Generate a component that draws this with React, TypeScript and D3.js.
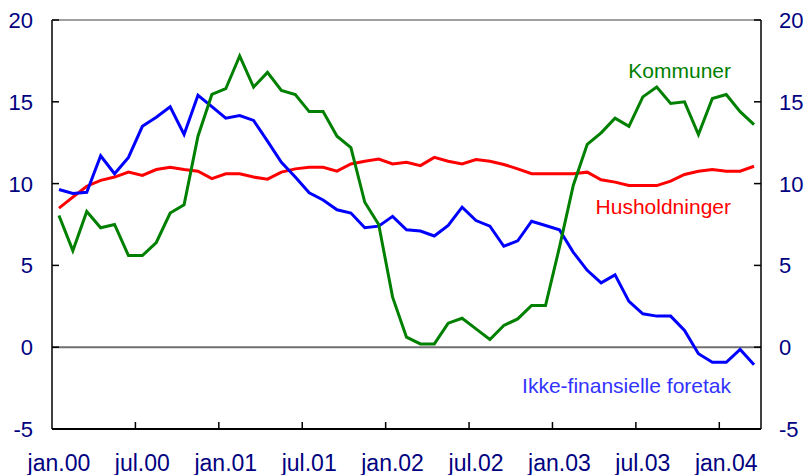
import React from 'react';
import * as d3 from 'd3';

const monthNames = ['jan', 'feb', 'mar', 'apr', 'mai', 'jun', 'jul', 'aug', 'sep', 'okt', 'nov', 'des'];
const years = ['00', '01', '02', '03', '04'];
const months: string[] = [];
years.forEach((yy) => monthNames.forEach((m) => months.push(`${m}.${yy}`)));
const categories = months.slice(0, 51); // jan.00 - mar.04

const kommuner = [
  8.05, 5.9, 8.3, 7.3, 7.5, 5.6, 5.6, 6.4, 8.2, 8.7, 12.9, 15.45,
  15.8, 17.8, 15.9, 16.8, 15.7, 15.45, 14.4, 14.4, 12.9, 12.2, 8.86, 7.5,
  3.06, 0.61, 0.2, 0.2, 1.47, 1.77, 1.12, 0.47, 1.33, 1.73, 2.55, 2.55,
  6.1, 9.9, 12.4, 13.1, 14.0, 13.5, 15.3, 15.9, 14.9, 15.0, 13.0, 15.2,
  15.45, 14.4, 13.6,
];

const husholdninger = [
  8.5, 9.17, 9.84, 10.2, 10.4, 10.7, 10.5, 10.86, 11.0, 10.86, 10.76, 10.3,
  10.6, 10.6, 10.4, 10.27, 10.7, 10.9, 11.0, 11.0, 10.76, 11.2, 11.37, 11.5,
  11.2, 11.3, 11.1, 11.6, 11.37, 11.2, 11.47, 11.37, 11.17, 10.9, 10.6, 10.6,
  10.6, 10.6, 10.7, 10.23, 10.09, 9.88, 9.88, 9.88, 10.15, 10.56, 10.76, 10.86,
  10.76, 10.76, 11.06,
];

const ikkeFinansielle = [
  9.64, 9.4, 9.47, 11.7, 10.6, 11.6, 13.5, 14.06, 14.7, 13.0, 15.4, 14.7,
  14.0, 14.16, 13.86, 12.6, 11.3, 10.4, 9.44, 9.0, 8.4, 8.2, 7.3, 7.4,
  8.0, 7.18, 7.1, 6.8, 7.44, 8.56, 7.74, 7.4, 6.17, 6.5, 7.7, 7.44,
  7.18, 5.8, 4.7, 3.93, 4.42, 2.8, 2.04, 1.9, 1.9, 1.02, -0.4, -0.92,
  -0.92, -0.14, -1.08,
];

const yTicks = [-5, 0, 5, 10, 15, 20];
const xTickLabels = ['jan.00', 'jul.00', 'jan.01', 'jul.01', 'jan.02', 'jul.02', 'jan.03', 'jul.03', 'jan.04'];

const series = [
  { name: 'Husholdninger', values: husholdninger, color: '#ff0000', labelColor: '#ff0000', labelY: 214 },
  { name: 'Ikke-finansielle foretak', values: ikkeFinansielle, color: '#0000ff', labelColor: '#3333ff', labelY: 393 },
  { name: 'Kommuner', values: kommuner, color: '#008000', labelColor: '#008000', labelY: 78 },
];

export default function App() {
  const width = 807;
  const height = 475;
  const left = 52;
  const right = 761;
  const top = 20;
  const bottom = 429;
  const font = "'Liberation Sans', Arial, sans-serif";
  const axisColor = '#000080';

  const x = d3.scaleBand<string>().domain(categories).range([left, right]).padding(0);
  const y = d3.scaleLinear().domain([-5, 20]).range([bottom, top]);
  const cx = (c: string) => (x(c) as number) + x.bandwidth() / 2;

  const line = d3
    .line<number>()
    .x((_, i) => cx(categories[i]))
    .y((d) => y(d));

  const tickCats = categories.filter((_, i) => i > 0 && i % 6 === 0);

  return (
    <svg
      width={width}
      height={height}
      style={{ position: 'absolute', left: 0, top: 0, background: '#fff' }}
      fontFamily={font}
    >
      {/* frame */}
      <line x1={left} x2={right} y1={top} y2={top} stroke="#808080" strokeWidth={1.5} />
      <line x1={left} x2={right} y1={y(0)} y2={y(0)} stroke="#707070" strokeWidth={2} />
      <line x1={left} x2={left} y1={top} y2={bottom} stroke="#000" strokeWidth={1.5} />
      <line x1={right} x2={right} y1={top} y2={bottom} stroke="#000" strokeWidth={1.5} />
      <line x1={left} x2={right} y1={bottom} y2={bottom} stroke="#000" strokeWidth={2} />

      {yTicks.map((t) => (
        <g key={t}>
          <line x1={left} x2={left + 7} y1={y(t)} y2={y(t)} stroke="#000" strokeWidth={1.5} />
          <line x1={right - 7} x2={right} y1={y(t)} y2={y(t)} stroke="#000" strokeWidth={1.5} />
          <text x={33} y={y(t)} dy="0.36em" textAnchor="end" fontSize={22} fill={axisColor}>
            {t}
          </text>
          <text x={779} y={y(t)} dy="0.36em" textAnchor="start" fontSize={22} fill={axisColor}>
            {t}
          </text>
        </g>
      ))}

      {tickCats.map((c) => (
        <line key={c} x1={x(c)} x2={x(c)} y1={bottom} y2={bottom - 7} stroke="#000" strokeWidth={1.5} />
      ))}

      {xTickLabels.map((c) => (
        <text key={c} x={cx(c)} y={471} textAnchor="middle" fontSize={23} fill={axisColor}>
          {c}
        </text>
      ))}

      {series.map((s) => (
        <path
          key={s.name}
          d={line(s.values) || ''}
          fill="none"
          stroke={s.color}
          strokeWidth={3}
          strokeLinejoin="miter"
        />
      ))}

      {series.map((s) => (
        <text key={s.name} x={731} y={s.labelY} textAnchor="end" fontSize={21} fill={s.labelColor}>
          {s.name}
        </text>
      ))}
    </svg>
  );
}
